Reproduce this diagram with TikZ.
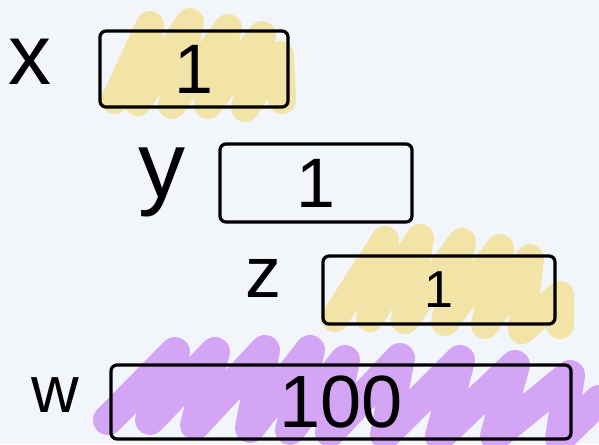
\documentclass[tikz,border=0pt]{standalone}
\usepackage{fontspec}
\setmainfont{Liberation Sans}
\begin{document}
\begin{tikzpicture}[x=1pt,y=-1pt,
  cell/.style={draw=black,line width=3.2pt,rounded corners=6pt,inner sep=0pt,anchor=center},
  var/.style={inner sep=0pt,anchor=center},
  hlY/.style={draw=yellowhl,line width=28pt,line cap=round,line join=round},
  hlP/.style={draw=purplehl,line width=30pt,line cap=round,line join=round}]
\definecolor{bgc}{HTML}{F2F5F9}
\definecolor{yellowhl}{HTML}{F2E4A6}
\definecolor{purplehl}{HTML}{D4A5F5}
\fill[bgc] (0,0) rectangle (599,444);
\useasboundingbox (0,0) rectangle (599,444);
% highlights
\draw[hlY] (115,100) -- (150,25) -- (138,102) -- (190,22) -- (172,105) -- (228,28) -- (208,105) -- (262,35) -- (245,108) -- (280,55) -- (282,100);
\draw[hlY] (335,318) -- (385,240) -- (370,318) -- (420,238) -- (405,320) -- (462,242) -- (445,322) -- (500,248) -- (485,325) -- (530,258) -- (522,330) -- (560,295) -- (560,325);
\draw[hlP] (108,420) -- (175,352) -- (150,420) -- (215,352) -- (195,425) -- (265,350) -- (250,428) -- (310,350) -- (290,430) -- (345,360) -- (330,432) -- (400,358) -- (385,435) -- (460,360) -- (440,436) -- (515,365) -- (495,436) -- (570,375) -- (560,438) -- (599,400);
% variables
\node[var,font=\fontsize{86}{86}\selectfont] (lx) at (30,62) {x};
\node[var,font=\fontsize{94}{94}\selectfont] (ly) at (162,182) {y};
\node[var,font=\fontsize{72}{72}\selectfont] (lz) at (263,278) {z};
\node[var,font=\fontsize{66}{66}\selectfont] (lw) at (55,395) {w};
% cells
\node[cell,minimum width=188pt,minimum height=76pt,font=\fontsize{70}{70}\selectfont] (bx) at (194,69) {1};
\node[cell,minimum width=192pt,minimum height=78pt,font=\fontsize{70}{70}\selectfont] (by) at (316,183) {1};
\node[cell,minimum width=232pt,minimum height=68pt,font=\fontsize{52}{52}\selectfont] (bz) at (439,290) {1};
\node[cell,minimum width=460pt,minimum height=74pt,font=\fontsize{74}{74}\selectfont] (bw) at (341,402) {100};
\end{tikzpicture}
\end{document}
